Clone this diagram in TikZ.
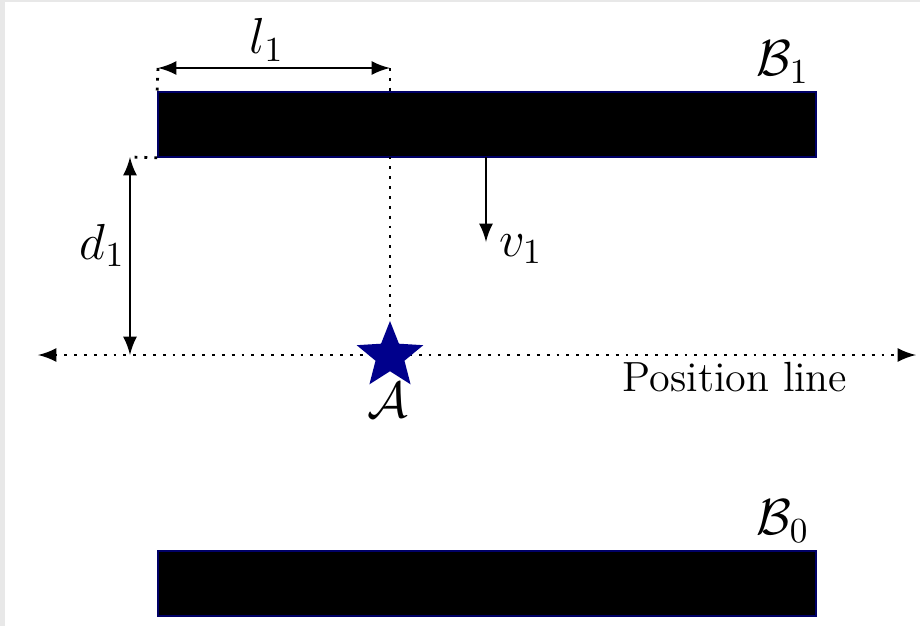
\documentclass[tikz,border=0pt]{standalone}
\usetikzlibrary{shapes.geometric}
\begin{document}
\begin{tikzpicture}[x=0.01cm, y=-0.01cm, >=latex, font=\large]

      \colorlet{frameGray}{black!9}      % outer frame
      \colorlet{barEdge}{blue!40!black}  % outline of the bars
      \colorlet{starBlue}{blue!55!black} % the point A

  \tikzset{
    bar/.style={draw=barEdge, fill=black, minimum width=6.58cm,
      minimum height=0.65cm, inner sep=0pt},
    guide/.style={thick, dotted},
    dim/.style={thick, <->},
    mathlabel/.style={font=\Large}
  }

  % frame
  \fill[frameGray] (0,0) rectangle (920,626);
  \fill[white] (5,2) rectangle (920,626);
  \useasboundingbox (0,0) rectangle (920,626);

  % the two bars
  \node[bar] (B1) at (487,124.5) {};
  \node[bar] (B0) at (487,583.5) {};
  \node[mathlabel, above left, inner sep=2pt] (B1lab) at (B1.north east) {$\mathcal{B}_1$};
  \node[mathlabel, above left, inner sep=2pt] (B0lab) at (B0.north east) {$\mathcal{B}_0$};

  % position line through A
  \coordinate (Apos) at (390,356);
  \coordinate (plWest) at (38,355);
  \coordinate (plEast) at (916,355);
  \draw[guide, <->] (plWest) -- (plEast);
  \node (plLabel) at (735,377) {Position line};

  % the point A
  \node[star, star points=5, star point ratio=2.3, fill=starBlue,
    minimum size=0.7cm, inner sep=0pt] (A) at (Apos) {};
  \node[mathlabel] (Alab) at (388,400) {$\mathcal{A}$};

  % l_1: offset of A along the bar
  \coordinate (l1Left) at (158,68);
  \coordinate (l1Right) at (390,68);
  \draw[guide] (l1Left) -- (B1.north west);
  \draw[dim] (l1Left) -- node[mathlabel, above, inner sep=1.5pt, xshift=-2pt] {$l_1$} (l1Right);
  \draw[guide] (l1Right) -- (A);

  % d_1: distance of the bar from the line
  \coordinate (d1Top) at (130,157);
  \coordinate (d1Bot) at (130,355);
  \draw[guide] (B1.south west) -- (d1Top);
  \draw[dim] (d1Top) -- node[mathlabel, left, inner sep=1pt, yshift=3pt] {$d_1$} (d1Bot);

  % v_1: speed of the bar
  \coordinate (v1Top) at (486,157);
  \coordinate (v1End) at (486,242);
  \draw[thick, ->] (v1Top) -- (v1End)
    node[mathlabel, right, yshift=-2pt] {$v_1$};

\end{tikzpicture}
\end{document}
